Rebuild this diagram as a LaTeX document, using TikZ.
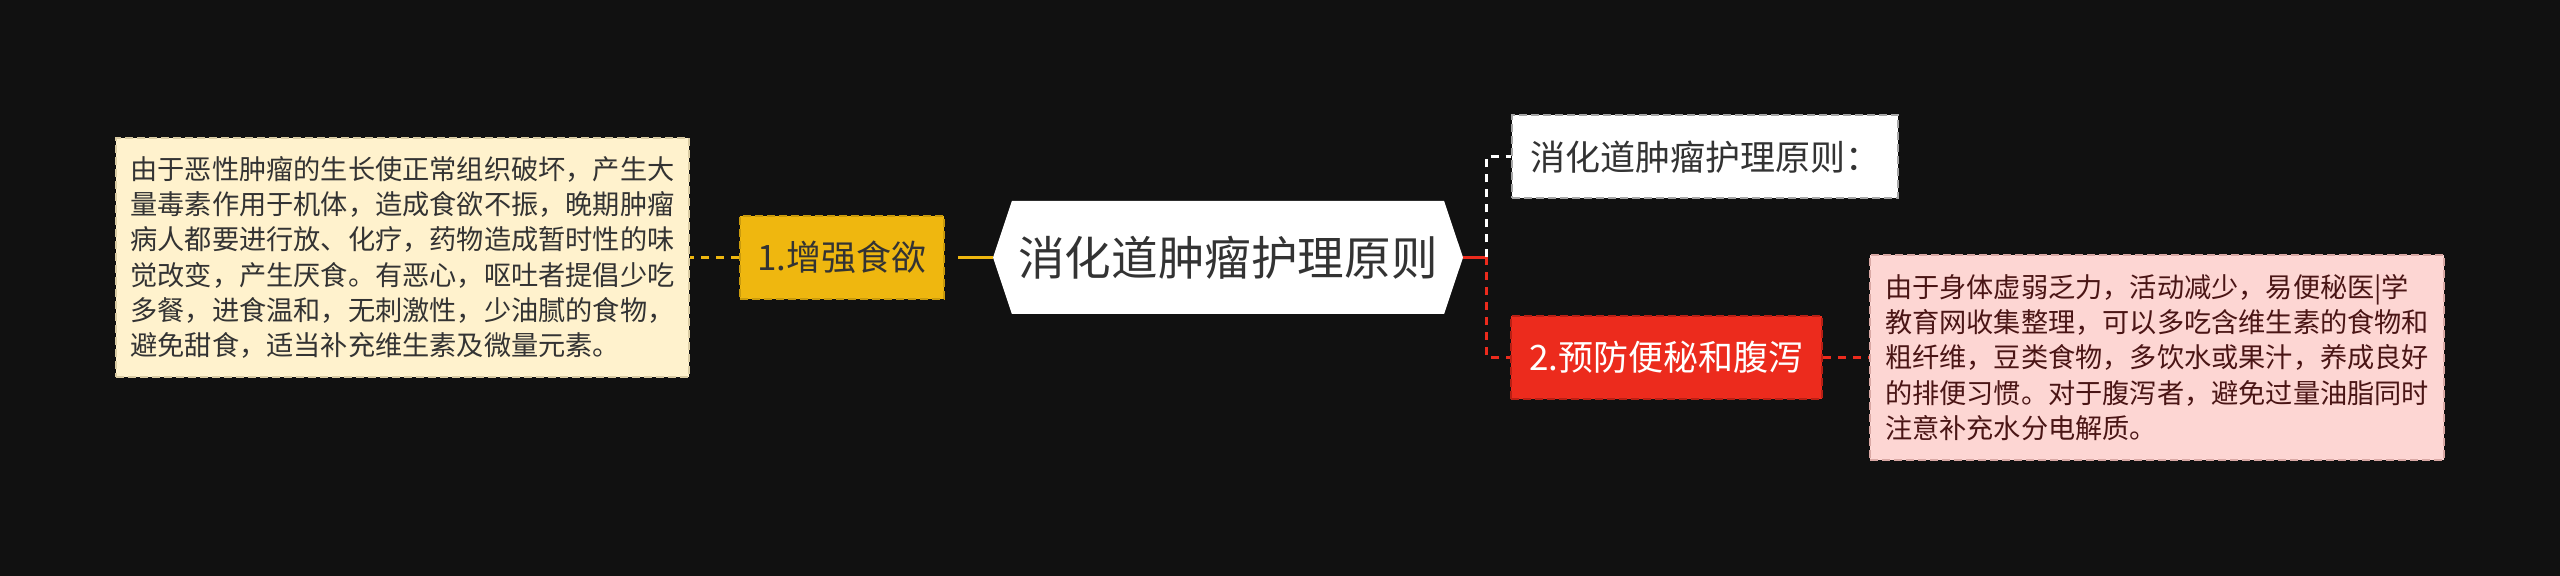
\documentclass[tikz,border=0pt]{standalone}
\usepackage{fontspec}
\setmainfont{Noto Sans CJK SC}
\usetikzlibrary{shapes.symbols}

\definecolor{bgdark}{HTML}{111111}
\definecolor{goldfill}{HTML}{EFB70F}
\definecolor{goldedge}{HTML}{C99A0C}
\definecolor{creamfill}{HTML}{FFF2CD}
\definecolor{creamedge}{HTML}{D9CBA3}
\definecolor{redfill}{HTML}{EC2B1D}
\definecolor{rededge}{HTML}{B81F14}
\definecolor{pinkfill}{HTML}{FDD6D3}
\definecolor{pinkedge}{HTML}{D9A8A4}
\definecolor{textdark}{HTML}{333333}
\definecolor{textmaroon}{HTML}{4A1515}

\tikzset{
  boxedge/.style={line width=1pt, dash pattern=on 4pt off 2pt},
  notebox/.style={boxedge, rectangle, align=left, inner sep=0pt,
    font=\fontsize{13.6pt}{17.6pt}\selectfont},
  branchbox/.style={boxedge, rectangle, inner sep=0pt, minimum height=41.5pt,
    font=\fontsize{17.5pt}{21pt}\selectfont},
  linkdash/.style={line width=1.5pt, dash pattern=on 4pt off 3.5pt},
}

\begin{document}
\begin{tikzpicture}[x=0.5pt, y=-0.5pt]

  % background
  \fill[bgdark] (0,0) rectangle (2560,576);

  % root
  \node[shape=signal, signal to=east and west, signal pointer angle=143,
        fill=white, text=textdark, inner sep=0pt,
        minimum width=235pt, minimum height=56.5pt,
        font=\fontsize{23.3pt}{28pt}\selectfont] (root) at (1228,257.5) {消化道肿瘤护理原则};

  % left branch
  \node[branchbox, fill=goldfill, draw=goldedge, text=textdark,
        minimum width=102pt] (appetite) at (842,257.5) {1.增强食欲};
  \node[notebox, fill=creamfill, draw=creamedge, text=textdark,
        minimum width=286.5pt, minimum height=119.5pt] (appetitenote) at (402.5,257.5)
    {由于恶性肿瘤的生长使正常组织破坏，产生大\\
     量毒素作用于机体，造成食欲不振，晚期肿瘤\\
     病人都要进行放、化疗，药物造成暂时性的味\\
     觉改变，产生厌食。有恶心，呕吐者提倡少吃\\
     多餐，进食温和，无刺激性，少油腻的食物，\\
     避免甜食，适当补充维生素及微量元素。};

  % right branches
  \node[branchbox, fill=white, draw=gray!70, text=textdark,
        minimum width=193pt] (principle) at (1705,157) {消化道肿瘤护理原则：};
  \node[branchbox, fill=redfill, draw=rededge, text=white,
        minimum width=155.5pt] (bowel) at (1666.5,357.5) {2.预防便秘和腹泻};
  \node[notebox, fill=pinkfill, draw=pinkedge, text=textmaroon,
        minimum width=287pt, minimum height=102.5pt] (bowelnote) at (2157,357.5)
    {由于身体虚弱乏力，活动减少，易便秘医|学\\
     教育网收集整理，可以多吃含维生素的食物和\\
     粗纤维，豆类食物，多饮水或果汁，养成良好\\
     的排便习惯。对于腹泻者，避免过量油脂同时\\
     注意补充水分电解质。};

  % connectors
  \coordinate (hub) at (1486,257.5);
  \draw[goldfill, line width=1.5pt, dash pattern=on 17.5pt off 7.5pt] (root.west) -- (appetite.east);
  \draw[goldfill, linkdash] (appetite.west) -- (appetitenote.east);
  \draw[redfill, line width=1.5pt] (root.east) -- (hub);
  \draw[white, linkdash] (hub) |- (principle.west);
  \draw[redfill, linkdash] (hub) |- (bowel.west);
  \draw[redfill, linkdash] (bowel.east) -- (bowelnote.west);

\end{tikzpicture}
\end{document}
